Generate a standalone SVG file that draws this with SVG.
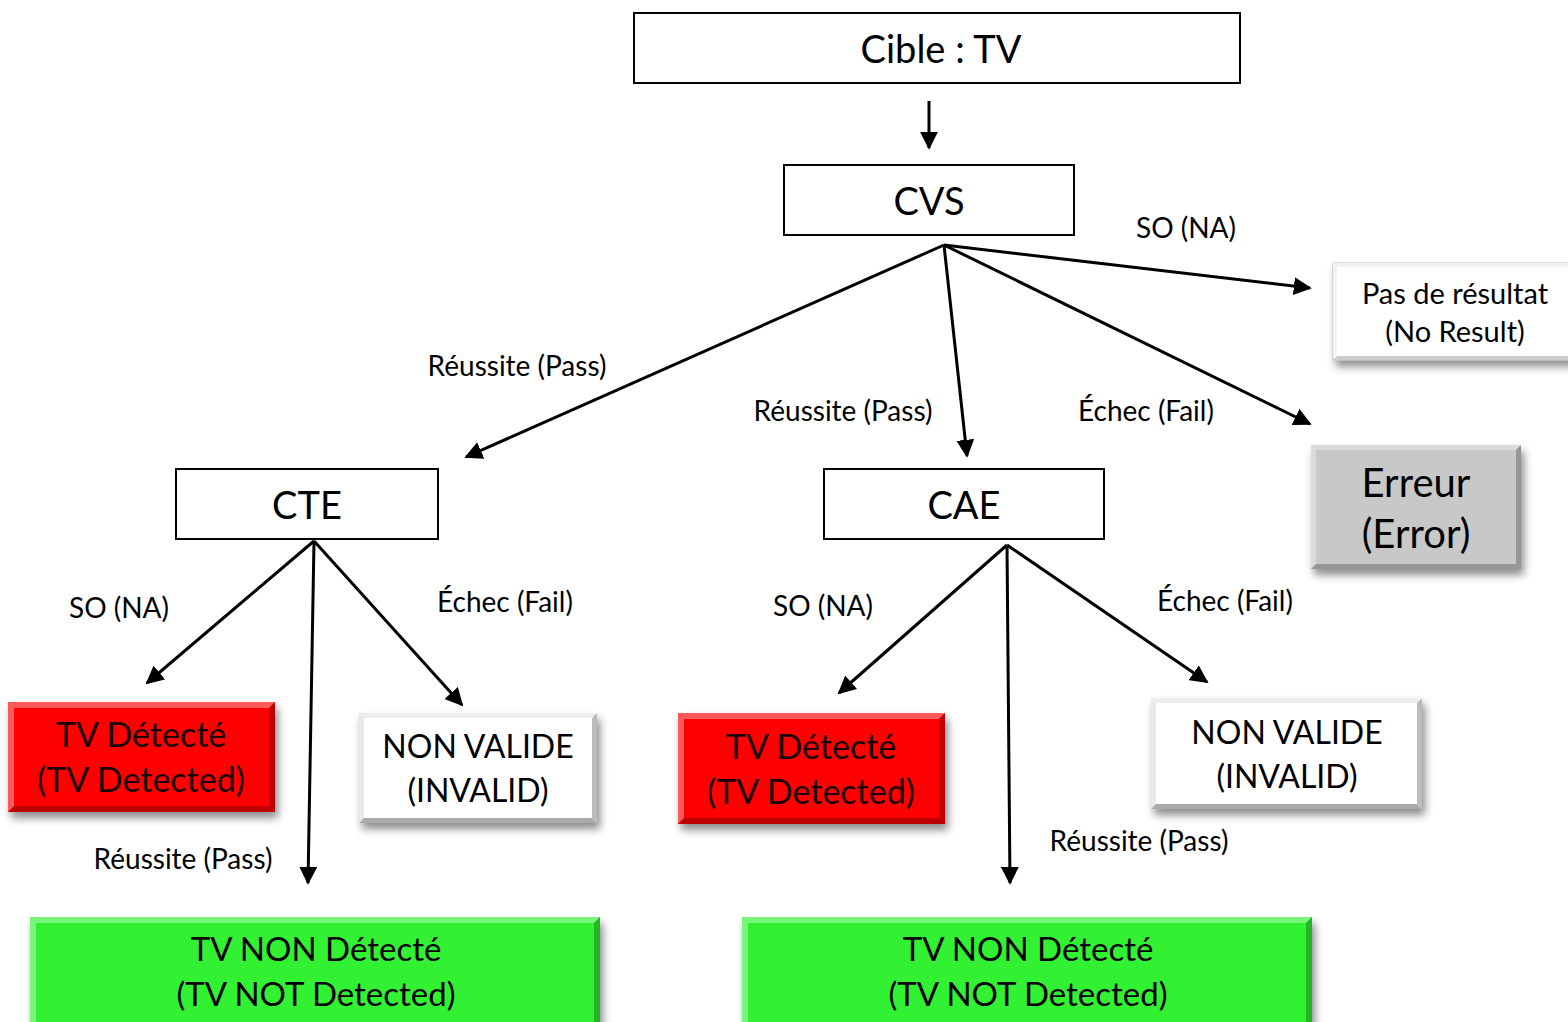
<svg xmlns="http://www.w3.org/2000/svg" width="1568" height="1022" viewBox="0 0 1568 1022">
<style>
text{font-family:Lato,"Open Sans","Liberation Sans",sans-serif;fill:#000;text-anchor:middle}
.big{font-size:38px}
.err{font-size:40px}
.mid{font-size:32px}
.red{font-size:34px;fill:#1a0000}
.grn{font-size:33px}
.lbl{font-size:28px}
.nr{font-size:29px}
.plain{fill:#fff;stroke:#000;stroke-width:2}
.conn line{stroke:#000;stroke-width:3;marker-end:url(#ah)}
.hl{fill:#fff;opacity:.35}
.sh{fill:#000;opacity:.25}
</style>
<defs>
<marker id="ah" viewBox="0 0 10 10" refX="9" refY="5" markerWidth="6" markerHeight="6" markerUnits="strokeWidth" orient="auto">
<path d="M0,0 L10,5 L0,10 z" fill="#000"/>
</marker>
<filter id="ds" x="-10%" y="-20%" width="125%" height="150%">
<feDropShadow dx="3" dy="6" stdDeviation="4" flood-color="#000" flood-opacity=".45"/>
</filter>
</defs>

<g id="node-cible">
<rect x="634" y="13" width="606" height="70" class="plain"/>
<text x="941" y="63" class="big">Cible : TV</text>
</g>
<g id="node-cvs">
<rect x="784" y="165" width="290" height="70" class="plain"/>
<text x="929" y="215" class="big">CVS</text>
</g>
<g id="node-cte">
<rect x="176" y="469" width="262" height="70" class="plain"/>
<text x="307" y="519" class="big">CTE</text>
</g>
<g id="node-cae">
<rect x="824" y="469" width="280" height="70" class="plain"/>
<text x="964" y="519" class="big">CAE</text>
</g>

<g id="node-noresult">
<rect x="1333" y="263" width="240" height="97" fill="#fff" stroke="#bbb" filter="url(#ds)"/>
<path d="M1333,263 h240 v4 h-236 v89 h-4z" fill="#f2f2f2"/>
<path d="M1333,360 h240 v-4 h-236z" fill="#ccc"/>
<text x="1455" y="304" class="nr">Pas de résultat</text>
<text x="1455" y="342" class="nr">(No Result)</text>
</g>

<g id="node-erreur">
<rect x="1311" y="445" width="210" height="124" fill="#c8c8c8" filter="url(#ds)"/>
<polygon points="1311,445 1521,445 1516,450 1316,450" class="hl"/>
<polygon points="1311,445 1316,450 1316,564 1311,569" class="hl"/>
<polygon points="1521,445 1521,569 1516,564 1516,450" class="sh"/>
<polygon points="1311,569 1521,569 1516,564 1316,564" class="sh"/>
<text x="1416" y="497" class="err">Erreur</text>
<text x="1416" y="548" class="err">(Error)</text>
</g>

<g id="node-tvdet1">
<rect x="8" y="702" width="267" height="110" fill="#f00" filter="url(#ds)"/>
<polygon points="8,702 275,702 269,708 14,708" class="hl"/>
<polygon points="8,702 14,708 14,806 8,812" class="hl"/>
<polygon points="275,702 275,812 269,806 269,708" class="sh"/>
<polygon points="8,812 275,812 269,806 14,806" class="sh"/>
<text x="141" y="747" class="red">TV Détecté</text>
<text x="141" y="792" class="red">(TV Detected)</text>
</g>

<g id="node-invalid1">
<rect x="359" y="713" width="238" height="110" fill="#fff" filter="url(#ds)"/>
<polygon points="359,713 597,713 592,718 364,718" fill="#eee"/>
<polygon points="359,713 364,718 364,818 359,823" fill="#e8e8e8"/>
<polygon points="597,713 597,823 592,818 592,718" fill="#bbb"/>
<polygon points="359,823 597,823 592,818 364,818" fill="#aaa"/>
<text x="478" y="758" class="mid">NON VALIDE</text>
<text x="478" y="802" class="mid">(INVALID)</text>
</g>

<g id="node-notdet1">
<rect x="30" y="917" width="570" height="110" fill="#33f033" filter="url(#ds)"/>
<polygon points="30,917 600,917 594,923 36,923" class="hl"/>
<polygon points="30,917 36,923 36,1027 30,1027" class="hl"/>
<polygon points="600,917 600,1027 594,1027 594,923" class="sh"/>
<text x="316" y="961" class="grn">TV NON Détecté</text>
<text x="316" y="1006" class="grn">(TV NOT Detected)</text>
</g>

<g id="node-tvdet2">
<rect x="678" y="713" width="267" height="111" fill="#f00" filter="url(#ds)"/>
<polygon points="678,713 945,713 939,719 684,719" class="hl"/>
<polygon points="678,713 684,719 684,818 678,824" class="hl"/>
<polygon points="945,713 945,824 939,818 939,719" class="sh"/>
<polygon points="678,824 945,824 939,818 684,818" class="sh"/>
<text x="811" y="759" class="red">TV Détecté</text>
<text x="811" y="804" class="red">(TV Detected)</text>
</g>

<g id="node-invalid2">
<rect x="1151" y="698" width="271" height="111" fill="#fff" filter="url(#ds)"/>
<polygon points="1151,698 1422,698 1417,703 1156,703" fill="#eee"/>
<polygon points="1151,698 1156,703 1156,804 1151,809" fill="#e8e8e8"/>
<polygon points="1422,698 1422,809 1417,804 1417,703" fill="#bbb"/>
<polygon points="1151,809 1422,809 1417,804 1156,804" fill="#aaa"/>
<text x="1287" y="744" class="mid">NON VALIDE</text>
<text x="1287" y="788" class="mid">(INVALID)</text>
</g>

<g id="node-notdet2">
<rect x="742" y="917" width="570" height="110" fill="#33f033" filter="url(#ds)"/>
<polygon points="742,917 1312,917 1306,923 748,923" class="hl"/>
<polygon points="742,917 748,923 748,1027 742,1027" class="hl"/>
<polygon points="1312,917 1312,1027 1306,1027 1306,923" class="sh"/>
<text x="1028" y="961" class="grn">TV NON Détecté</text>
<text x="1028" y="1006" class="grn">(TV NOT Detected)</text>
</g>

<g id="connectors" class="conn">
<line x1="929" y1="101" x2="929" y2="148"/>
<line x1="944" y1="245" x2="466" y2="457"/>
<line x1="944" y1="245" x2="967" y2="456"/>
<line x1="944" y1="245" x2="1310" y2="424"/>
<line x1="944" y1="245" x2="1310" y2="288"/>
<line x1="314" y1="541" x2="147" y2="683"/>
<line x1="314" y1="541" x2="308" y2="883"/>
<line x1="314" y1="541" x2="462" y2="705"/>
<line x1="1007" y1="545" x2="839" y2="693"/>
<line x1="1007" y1="545" x2="1010" y2="883"/>
<line x1="1007" y1="545" x2="1207" y2="682"/>
</g>

<g id="labels">
<text x="1186" y="238" class="lbl">SO (NA)</text>
<text x="517" y="376" class="lbl">Réussite (Pass)</text>
<text x="843" y="421" class="lbl">Réussite (Pass)</text>
<text x="1146" y="421" class="lbl">Échec (Fail)</text>
<text x="119" y="618" class="lbl">SO (NA)</text>
<text x="505" y="612" class="lbl">Échec (Fail)</text>
<text x="183" y="869" class="lbl">Réussite (Pass)</text>
<text x="823" y="616" class="lbl">SO (NA)</text>
<text x="1225" y="611" class="lbl">Échec (Fail)</text>
<text x="1139" y="851" class="lbl">Réussite (Pass)</text>
</g>
</svg>
